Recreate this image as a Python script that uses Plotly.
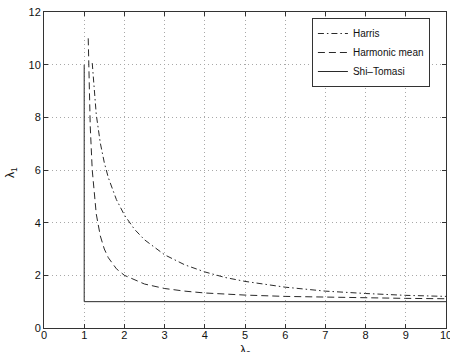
import plotly.graph_objects as go

harris_x = [1.2, 1.25, 1.3, 1.4, 1.5, 1.6, 1.8, 2.0, 2.25, 2.5, 3.0, 3.5, 4.0, 4.5, 5.0, 6.0, 7.0, 8.0, 9.0, 10.0]
harris_y = [10.06, 8.89, 8.11, 7.03, 6.28, 5.71, 4.88, 4.29, 3.75, 3.35, 2.78, 2.40, 2.13, 1.92, 1.77, 1.55, 1.40, 1.31, 1.24, 1.20]

harm_x = [1.1, 1.12, 1.15, 1.2, 1.25, 1.3, 1.4, 1.5, 1.6, 1.8, 2.0, 2.5, 3.0, 3.5, 4.0, 5.0, 6.0, 7.0, 8.0, 9.0, 10.0]
harm_y = [11.0, 9.33, 7.67, 6.0, 5.0, 4.33, 3.5, 3.0, 2.67, 2.25, 2.0, 1.67, 1.5, 1.4, 1.33, 1.25, 1.2, 1.167, 1.143, 1.125, 1.111]

shi_x = [1, 1, 10]
shi_y = [10, 1, 1]

x_ticks = [0, 1, 2, 3, 4, 5, 6, 7, 8, 9, 10]
y_ticks = [0, 2, 4, 6, 8, 10, 12]

x_title = "\u03bb<sub>2</sub>"
y_title = "\u03bb<sub>1</sub>"

line_col = "#2a2a2a"
font_family = "Liberation Sans, Arial"
fig = go.Figure()
fig.add_trace(go.Scatter(x=harris_x, y=harris_y, mode="lines", name="Harris",
                         line=dict(color=line_col, width=1, dash="6px,3px,1.5px,3px")))
fig.add_trace(go.Scatter(x=harm_x, y=harm_y, mode="lines", name="Harmonic mean",
                         line=dict(color=line_col, width=1, dash="7px,4px")))
fig.add_trace(go.Scatter(x=shi_x, y=shi_y, mode="lines", name="Shi\u2013Tomasi",
                         line=dict(color=line_col, width=1)))

axis_common = dict(showline=True, linecolor="#333333", linewidth=1, mirror="ticks",
                   ticks="inside", ticklen=4, tickcolor="#333333", automargin=False,
                   ticklabeloverflow="allow",
                   showgrid=True, gridcolor="#a8a8a8", griddash="1px,3px", gridwidth=1,
                   zeroline=False, tickfont=dict(family=font_family, size=11, color="#111111"))

fig.update_xaxes(range=[0, 10], tickvals=x_ticks, ticktext=[str(v) for v in x_ticks],
                 ticklabelstandoff=-3, **axis_common)
fig.update_yaxes(range=[0, 12], tickvals=y_ticks, ticktext=[str(v) for v in y_ticks],
                 **axis_common)

fig.add_annotation(text=x_title, xref="paper", yref="paper", x=0.5, y=0,
                   xanchor="center", yanchor="top", yshift=-13, showarrow=False,
                   font=dict(family=font_family, size=12, color="#111111"))
fig.add_annotation(text=y_title, xref="paper", yref="paper", x=0, y=0.5,
                   xanchor="center", yanchor="middle", xshift=-33, yshift=-3, textangle=-90,
                   showarrow=False, font=dict(family=font_family, size=12, color="#111111"))

fig.update_layout(
    width=450, height=352,
    margin=dict(l=44, r=4, t=12, b=24),
    plot_bgcolor="white", paper_bgcolor="white",
    showlegend=True,
    legend=dict(x=0.96, y=0.981, xanchor="right", yanchor="top",
                bgcolor="white", bordercolor="#333333", borderwidth=1,
                font=dict(family=font_family, size=10, color="#111111"),
                tracegroupgap=0, itemwidth=30),
)

fig.write_html("out.html", config={"displayModeBar": False},
               post_script="document.body.style.margin='0';document.body.style.overflow='hidden';")
